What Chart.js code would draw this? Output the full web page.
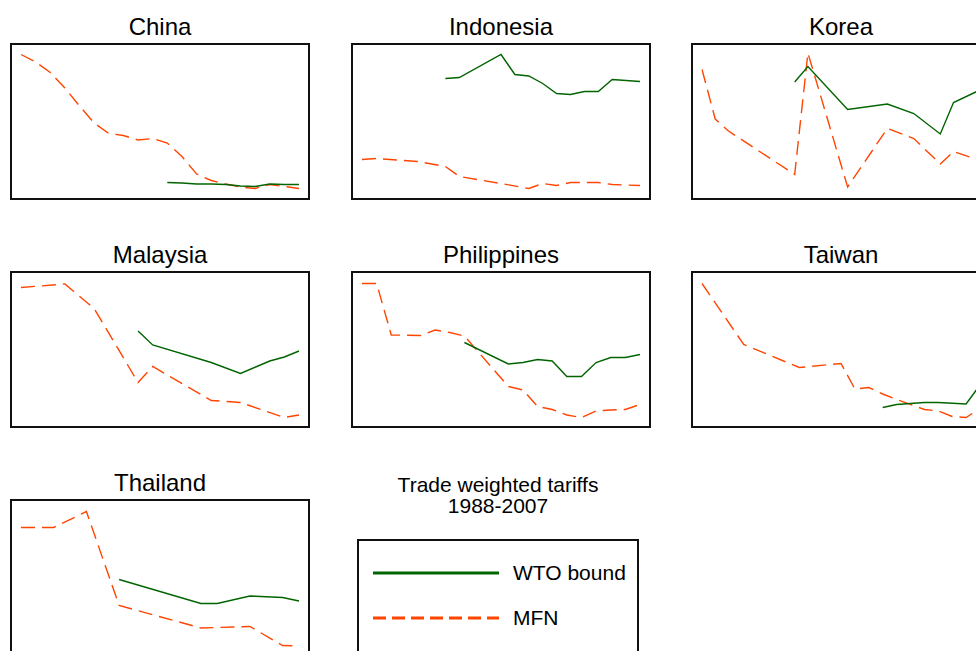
<!DOCTYPE html>
<html>
<head>
<meta charset="utf-8">
<script src="https://cdn.jsdelivr.net/npm/chart.js@4.4.1/dist/chart.umd.min.js"></script>
<style>
  html, body { margin: 0; padding: 0; background: #fff; }
  body {
    position: relative; width: 976px; height: 651px; overflow: hidden;
    font-family: "Liberation Sans", Arial, sans-serif; color: #000;
  }
  .panel  { position: absolute; }
  .title  { position: absolute; width: 300px; text-align: center; font-size: 24px; line-height: 24px; }
  .legend-title { position: absolute; left: 348px; width: 300px; top: 474px; text-align: center;
                  font-size: 21px; line-height: 21px; }
  .legend-box { position: absolute; left: 357px; top: 539px; width: 278px; height: 130px;
                border: 2px solid #111; }
  .legend-box svg { position: absolute; left: 0; top: 0; }
  .legend-label { position: absolute; left: 154px; font-size: 21px; line-height: 22px; }
</style>
</head>
<body>

<div class="legend-title">Trade weighted tariffs<br>1988-2007</div>
<div class="legend-box">
  <svg width="150" height="100">
    <line x1="14" y1="32" x2="140" y2="32" stroke="#006400" stroke-width="2.8"/>
    <line x1="14" y1="77" x2="140" y2="77" stroke="#ff4500" stroke-width="2.8" stroke-dasharray="13 6"/>
  </svg>
  <div class="legend-label" style="top:21px">WTO bound</div>
  <div class="legend-label" style="top:66px">MFN</div>
</div>

<script>
// ── Data (trade weighted tariffs, %) ─────────────────────────────────────────
const YEARS = [1986, 1987, 1988, 1989, 1990, 1991, 1992, 1993, 1994, 1995, 1996,
               1997, 1998, 1999, 2000, 2001, 2002, 2003, 2004, 2005, 2006, 2007];

const chinaYears = YEARS.slice(2);
const chinaWTO = [null, null, null, null, null, null, null, null, null, null,
                  3.5, 3.4, 3.2, 3.2, 3.1, 2.8, 2.7, 3.2, 3.1, 3.1];
const chinaMFN = [29.1, 27.6, 25.5, 22.4, 18.8, 15.4, 13.3, 12.9, 12.0, 12.3,
                  11.4, 8.7, 5.2, 3.9, 3.2, 2.6, 2.3, 3.1, 2.7, 2.3];

const indonesiaYears = YEARS.slice(1);
const indonesiaWTO = [null, null, null, null, null, null, 24.3, 24.5, null, null,
                      29.1, 25.1, 24.8, 23.3, 21.3, 21.1, 21.7, 21.7, 24.1, null, 23.7];
const indonesiaMFN = [8.1, 8.3, null, null, 7.7, null, 6.7, 4.7, null, null,
                      3.3, null, 2.3, 3.3, 2.9, 3.5, null, 3.5, 3.1, null, 2.9];

const koreaYears = YEARS.slice(0);
const koreaWTO = [null, null, null, null, null, null, null, 23.6, 26.7, null, null,
                  18.1, null, null, 19.2, null, 17.3, null, 13.2, 19.5, null, 22.0];
const koreaMFN = [26.1, 16.2, 13.8, null, null, null, null, 5.1, 29.4, null, null,
                  2.6, null, null, 14.3, null, 12.3, null, 7.2, 9.7, null, 7.9];

const malaysiaYears = YEARS.slice(2);
const malaysiaWTO = [null, null, null, null, null, null, null, null, 19.4, 16.6,
                     null, null, null, 13.1, null, 10.9, null, 13.4, 14.2, 15.4];
const malaysiaMFN = [28.1, null, null, 28.8, null, 23.9, null, null, 9.1, 12.3,
                     null, null, null, 5.5, null, 5.1, null, null, 2.1, 2.6];

const philippinesYears = YEARS.slice(2);
const philippinesWTO = [null, null, null, null, null, null, null, 17.1, null, null,
                        12.8, 13.1, 13.7, 13.4, 10.3, 10.3, 13.1, 14.1, 14.1, 14.7];
const philippinesMFN = [28.9, 28.9, 18.6, null, 18.5, 19.6, 19.1, 18.4, null, null,
                        8.3, 7.6, 4.3, 3.7, 2.6, 2.1, 3.4, 3.6, 3.7, 4.7];

const taiwanYears = YEARS.slice(1);
const taiwanWTO = [null, null, null, null, null, null, null, null, null, null,
                   null, null, null, 4.1, 4.7, null, 5.1, 5.1, null, 4.8, 8.6];
const taiwanMFN = [28.9, null, null, 16.7, null, null, null, 12.1, null, null,
                   12.9, 7.8, 8.1, 6.8, 5.7, null, 3.7, 3.4, 2.3, 2.1, 3.9];

const thailandYears = YEARS.slice(4);
const thailandWTO = [null, null, null, null, null, null, 15.3, null, null, null,
                     null, 10.5, 10.5, null, 12.0, null, 11.7, 11.0];
const thailandMFN = [25.7, null, 25.7, null, 28.9, null, 10.1, null, null, null,
                     null, 5.6, null, null, 5.9, null, 2.1, 2.0];

const Y_MAX = 31.4;

// ── Look ─────────────────────────────────────────────────────────────────────
const GREEN  = "#006400";
const ORANGE = "#ff4500";

const PANELS = [
  { name: "China",       left: 10,  top: 43,  years: chinaYears,       wto: chinaWTO,       mfn: chinaMFN },
  { name: "Indonesia",   left: 351, top: 43,  years: indonesiaYears,   wto: indonesiaWTO,   mfn: indonesiaMFN },
  { name: "Korea",       left: 691, top: 43,  years: koreaYears,       wto: koreaWTO,       mfn: koreaMFN },
  { name: "Malaysia",    left: 10,  top: 271, years: malaysiaYears,    wto: malaysiaWTO,    mfn: malaysiaMFN },
  { name: "Philippines", left: 351, top: 271, years: philippinesYears, wto: philippinesWTO, mfn: philippinesMFN },
  { name: "Taiwan",      left: 691, top: 271, years: taiwanYears,      wto: taiwanWTO,      mfn: taiwanMFN },
  { name: "Thailand",    left: 10,  top: 499, years: thailandYears,    wto: thailandWTO,    mfn: thailandMFN },
];

// frame round each small plot
const framePlugin = {
  id: "frame",
  afterDraw(chart) {
    const { ctx, width, height } = chart;
    ctx.save();
    ctx.strokeStyle = "#111";
    ctx.lineWidth = 2;
    ctx.strokeRect(1, 1, width - 2, height - 2);
    ctx.restore();
  },
};

// ── Build panels ─────────────────────────────────────────────────────────────
PANELS.forEach(p => {
  const title = document.createElement("div");
  title.className = "title";
  title.textContent = p.name;
  title.style.left = p.left + "px";
  title.style.top = (p.top - 28) + "px";
  document.body.appendChild(title);

  const canvas = document.createElement("canvas");
  canvas.className = "panel";
  canvas.width = 300;
  canvas.height = 157;
  canvas.style.left = p.left + "px";
  canvas.style.top = p.top + "px";
  document.body.appendChild(canvas);

  new Chart(canvas.getContext("2d"), {
    type: "line",
    data: {
      labels: p.years,
      datasets: [
        {
          label: "WTO bound",
          data: p.wto,
          borderColor: GREEN,
          borderWidth: 1.4,
          pointRadius: 0,
          spanGaps: true,
          tension: 0,
        },
        {
          label: "MFN",
          data: p.mfn,
          borderColor: ORANGE,
          borderWidth: 1.4,
          borderDash: [14, 7],
          pointRadius: 0,
          spanGaps: true,
          tension: 0,
        },
      ],
    },
    options: {
      responsive: false,
      animation: false,
      layout: { padding: { left: 11, right: 11, top: 0, bottom: 0 } },
      plugins: { legend: { display: false }, tooltip: { enabled: false } },
      scales: {
        x: { display: false, offset: false },
        y: { display: false, min: 0, max: Y_MAX },
      },
    },
    plugins: [framePlugin],
  });
});
</script>
</body>
</html>
